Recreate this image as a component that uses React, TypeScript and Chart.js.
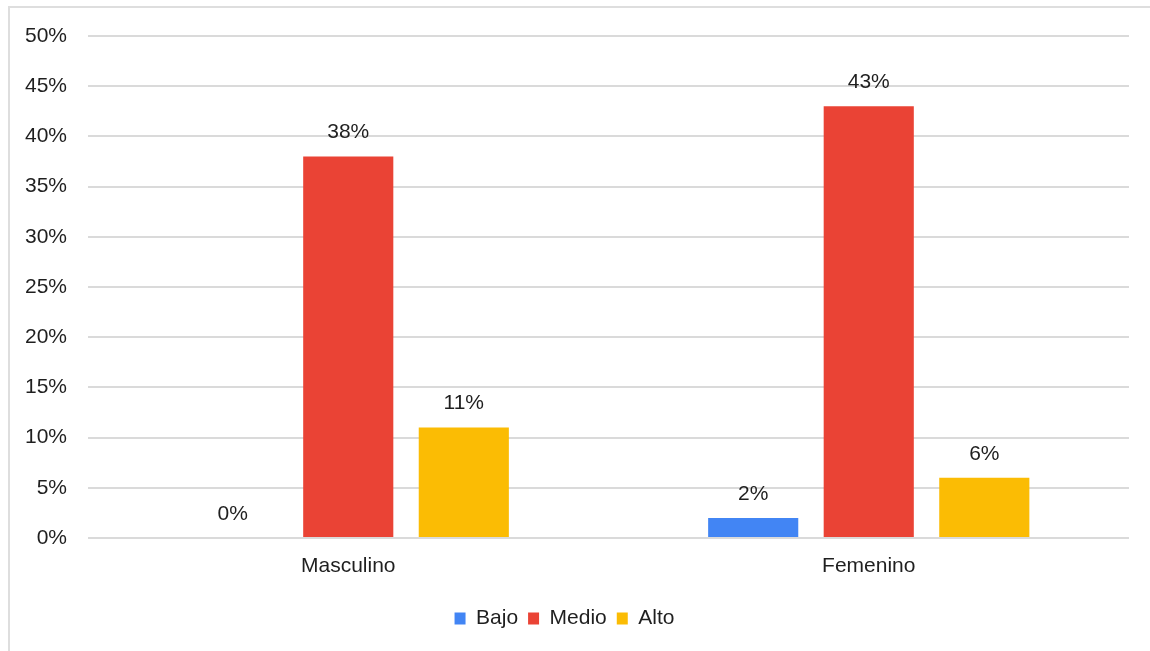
import React, { useEffect, useRef } from "react";
import { Chart, registerables } from "chart.js";

Chart.register(...registerables);

const categories = ["Masculino", "Femenino"];
const seriesNames = ["Bajo", "Medio", "Alto"];
const bajo = [0, 2];
const medio = [38, 43];
const alto = [11, 6];
const colors = ["#4285F4", "#EA4335", "#FBBC04"];
const yMin = 0;
const yMax = 50;
const yStep = 5;

const FONT = "'Liberation Sans', Arial, sans-serif";
const TEXT = "#1f1f1f";
const SIZE = 21;

const valueLabels = {
  id: "valueLabels",
  afterDatasetsDraw(chart: any) {
    const ctx = chart.ctx;
    ctx.save();
    ctx.font = `${SIZE}px ${FONT}`;
    ctx.fillStyle = TEXT;
    ctx.textAlign = "center";
    ctx.textBaseline = "middle";
    chart.data.datasets.forEach((ds: any, i: number) => {
      const meta = chart.getDatasetMeta(i);
      meta.data.forEach((bar: any, j: number) => {
        ctx.fillText(`${ds.data[j]}%`, bar.x, bar.y - 24);
      });
    });
    ctx.restore();
  },
};

export default function App() {
  const ref = useRef<HTMLCanvasElement>(null);
  useEffect(() => {
    if (!ref.current) return;
    const series = [bajo, medio, alto];
    const chart = new Chart(ref.current, {
      type: "bar",
      data: {
        labels: categories,
        datasets: seriesNames.map((name, i) => ({
          label: name,
          data: series[i],
          backgroundColor: colors[i],
          borderWidth: 0,
          categoryPercentage: 0.666,
          barPercentage: 0.78,
        })),
      },
      options: {
        responsive: false,
        animation: false,
        layout: { padding: { left: 0, right: 21, top: 36, bottom: 12 } },
        plugins: {
          tooltip: { enabled: false },
          legend: {
            position: "bottom",
            labels: {
              boxWidth: 11,
              boxHeight: 12,
              padding: 10,
              color: TEXT,
              font: { family: FONT, size: SIZE },
            },
          },
        },
        scales: {
          x: {
            grid: { display: false, drawTicks: false },
            border: { display: false },
            ticks: { color: TEXT, font: { family: FONT, size: SIZE }, padding: 16 },
            afterFit: (s: any) => {
              s.height = 60;
            },
          },
          y: {
            min: yMin,
            max: yMax,
            grid: { color: "#dadada", lineWidth: 2, drawTicks: false },
            border: { display: false },
            ticks: {
              stepSize: yStep,
              color: TEXT,
              font: { family: FONT, size: SIZE },
              padding: 21,
              callback: (v: any) => `${v}%`,
            },
            afterFit: (s: any) => {
              s.width = 88;
            },
          },
        },
      },
      plugins: [valueLabels],
    });
    return () => chart.destroy();
  }, []);

  return (
    <div>
      <div
        style={{
          position: "fixed",
          left: 8,
          top: 6,
          width: 1142,
          height: 645,
          boxSizing: "border-box",
          borderTop: "2px solid #dedede",
          borderLeft: "2px solid #dedede",
        }}
      />
      <canvas
        ref={ref}
        width={1150}
        height={651}
        style={{ position: "fixed", left: 0, top: 0, width: 1150, height: 651 }}
      />
    </div>
  );
}
